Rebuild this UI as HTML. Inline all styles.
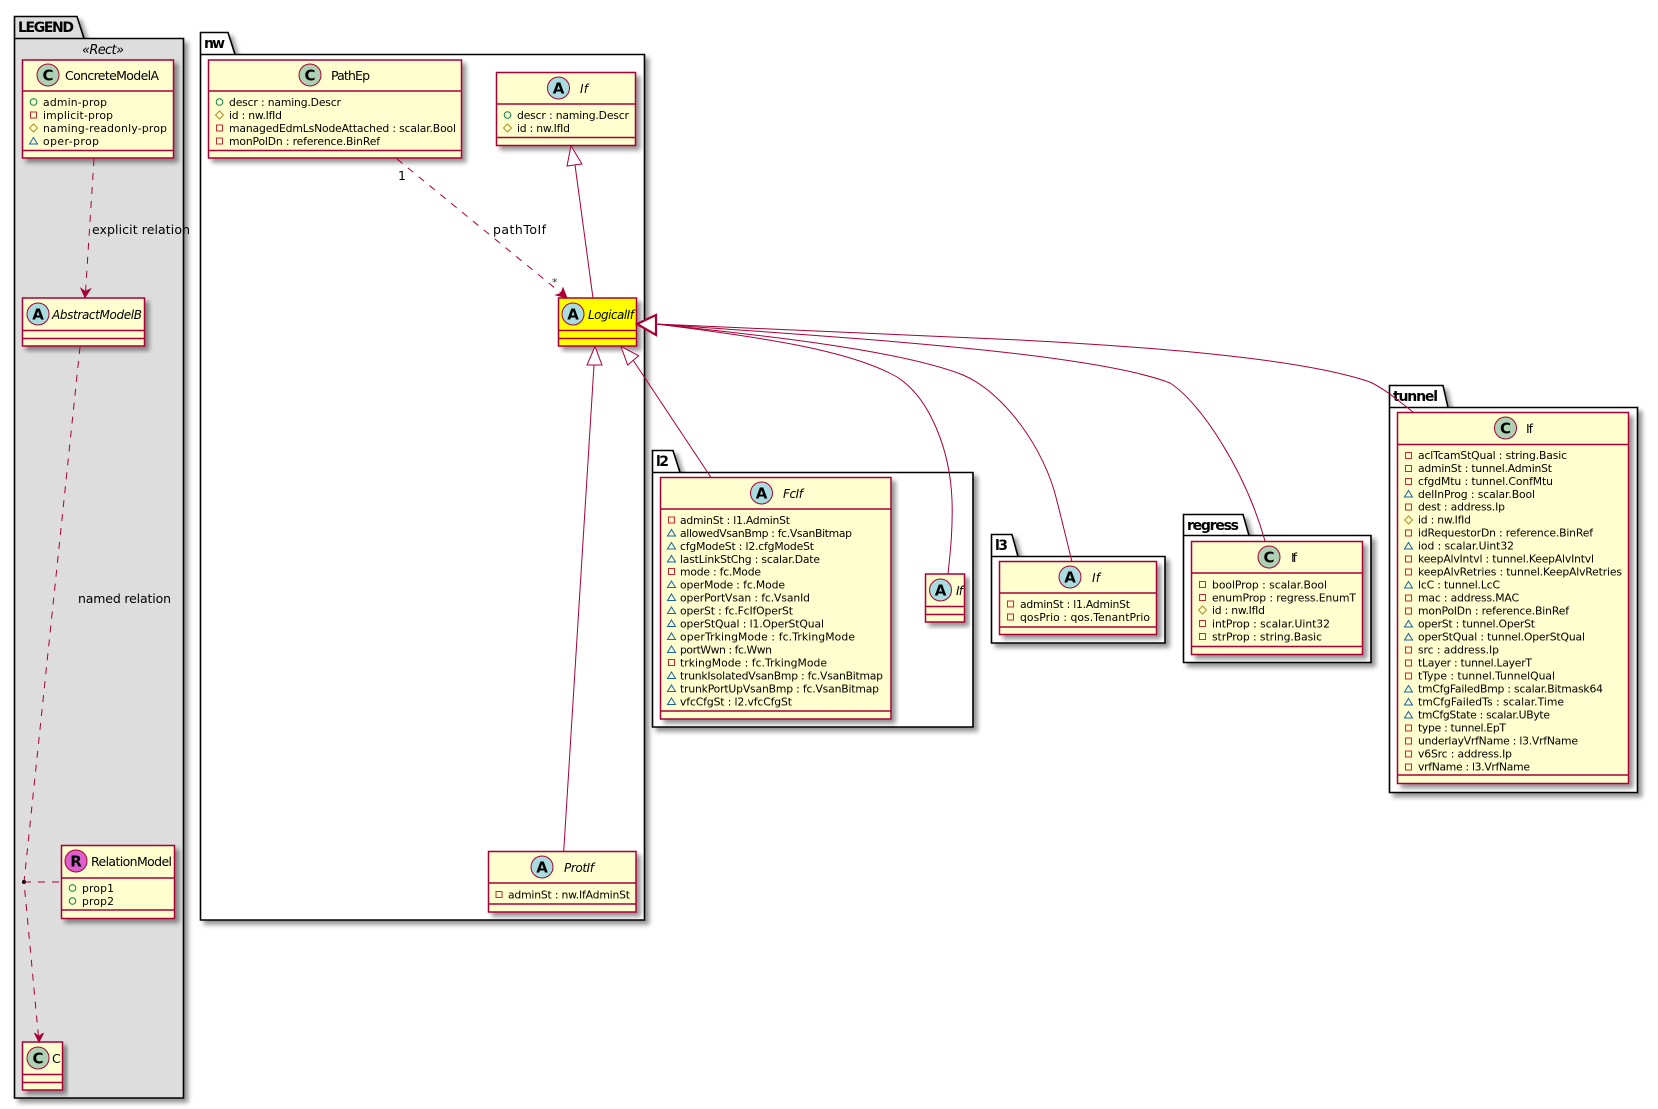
<!DOCTYPE html>
<html><head><meta charset="utf-8"><style>
html,body{margin:0;padding:0;background:#fff}
svg{display:block}
text{font-family:"DejaVu Sans","Liberation Sans",sans-serif;fill:#000}
.a{font-size:10.8px}
.t{font-size:12.5px}
.i{font-size:12px;font-style:italic}
.e{font-size:12.5px}
.p{font-size:14px;font-weight:bold}
.l{font-size:15px;font-weight:bold;text-anchor:middle}
.b{fill:#FEFECE;stroke:#A80036;stroke-width:1.5}
.y{fill:#FFFF00;stroke:#A80036;stroke-width:1.5}
.d{stroke:#A80036;stroke-width:1.5;fill:none}
.k{stroke:#A80036;stroke-width:1;fill:none}
.q{stroke:#A80036;stroke-width:1;fill:none;stroke-dasharray:7,7}
.g{fill:#fff;stroke:#000;stroke-width:1.6}
.h{fill:#DDDDDD;stroke:#000;stroke-width:1.6}
.c{fill:#ADD1B2;stroke:#A80036;stroke-width:1}
.n{fill:#A9DCDF;stroke:#A80036;stroke-width:1}
.r{fill:#DD5FCD;stroke:#A80036;stroke-width:1}
.ah{fill:#A80036;stroke:#A80036;stroke-width:1}
.tri{fill:#fff;stroke:#A80036;stroke-width:1}
</style></head><body>
<svg xmlns="http://www.w3.org/2000/svg" width="1658" height="1109" viewBox="0 0 1658 1109">
<defs>
<filter id="s" x="-10%" y="-10%" width="125%" height="125%">
<feGaussianBlur in="SourceAlpha" stdDeviation="2.4"/><feOffset dx="4" dy="4"/>
<feComponentTransfer><feFuncA type="linear" slope=".42"/></feComponentTransfer>
<feMerge><feMergeNode/><feMergeNode in="SourceGraphic"/></feMerge>
</filter>
<g id="pu"><circle cx="0" cy="0" r="3.3" fill="none" stroke="#038048" stroke-width="1"/></g>
<g id="pr"><rect x="-3" y="-3" width="6" height="6" fill="none" stroke="#C82930" stroke-width="1"/></g>
<g id="pt"><path d="M0,-4L4,0L0,4L-4,0Z" fill="none" stroke="#B38D22" stroke-width="1"/></g>
<g id="pk"><path d="M0,-3.5L4,3L-4,3Z" fill="none" stroke="#1963A0" stroke-width="1"/></g>
</defs>

<!-- packages -->
<path class="h" filter="url(#s)" d="M14.5,38.5V16.5H77L84,38.5H183.5V1098H14.5Z"/>
<line x1="14.5" y1="38.5" x2="84" y2="38.5" stroke="#000" stroke-width="1.6"/>
<text class="p" x="18" y="32" textLength="56">LEGEND</text>
<text class="i" x="82" y="54" textLength="42" style="font-size:13px">«Rect»</text>

<path class="g" filter="url(#s)" d="M200.5,54.5V32.5H228L235,54.5H644.5V920H200.5Z"/>
<line x1="200.5" y1="54.5" x2="235" y2="54.5" stroke="#000" stroke-width="1.6"/>
<text class="p" x="204" y="48" textLength="21">nw</text>

<path class="g" filter="url(#s)" d="M652.5,472.5V450.5H673L680,472.5H973V727H652.5Z"/>
<line x1="652.5" y1="472.5" x2="680" y2="472.5" stroke="#000" stroke-width="1.6"/>
<text class="p" x="656" y="466" textLength="13">l2</text>

<path class="g" filter="url(#s)" d="M991.5,556.5V534.5H1012L1018,556.5H1165V643H991.5Z"/>
<line x1="991.5" y1="556.5" x2="1018" y2="556.5" stroke="#000" stroke-width="1.6"/>
<text class="p" x="995" y="550" textLength="13">l3</text>

<path class="g" filter="url(#s)" d="M1183.5,535.5V514.5H1243L1249,535.5H1371V662.5H1183.5Z"/>
<line x1="1183.5" y1="535.5" x2="1249" y2="535.5" stroke="#000" stroke-width="1.6"/>
<text class="p" x="1187" y="530" textLength="52">regress</text>

<path class="g" filter="url(#s)" d="M1389.5,407.5V385.5H1443L1448,407.5H1637.5V792.5H1389.5Z"/>
<line x1="1389.5" y1="407.5" x2="1448" y2="407.5" stroke="#000" stroke-width="1.6"/>
<text class="p" x="1393" y="401" textLength="45">tunnel</text>

<!-- ConcreteModelA -->
<rect class="b" filter="url(#s)" x="22.5" y="60" width="151" height="98"/>
<path class="d" d="M22.5,91H173.5M22.5,150.5H173.5"/>
<circle class="c" cx="48" cy="75" r="11"/><text class="l" x="48" y="80.5">C</text>
<text class="t" x="65" y="80" textLength="94">ConcreteModelA</text>
<use href="#pu" x="33.5" y="102"/><text class="a" x="43" y="106" textLength="64">admin-prop</text>
<use href="#pr" x="33.5" y="115"/><text class="a" x="43" y="119" textLength="70">implicit-prop</text>
<use href="#pt" x="33.5" y="128"/><text class="a" x="43" y="132" textLength="124">naming-readonly-prop</text>
<use href="#pk" x="33.5" y="141"/><text class="a" x="43" y="145" textLength="56">oper-prop</text>

<!-- AbstractModelB -->
<rect class="b" filter="url(#s)" x="22.5" y="298" width="122" height="48"/>
<path class="d" d="M22.5,330.5H144.5M22.5,338.5H144.5"/>
<circle class="n" cx="38" cy="314" r="11"/><text class="l" x="38" y="319.5">A</text>
<text class="i" x="52" y="319" textLength="90">AbstractModelB</text>

<!-- RelationModel -->
<rect class="b" filter="url(#s)" x="61.5" y="845.5" width="113" height="73"/>
<path class="d" d="M61.5,878H174.5M61.5,910H174.5"/>
<circle class="r" cx="76" cy="861" r="11"/><text class="l" x="76" y="866.5">R</text>
<text class="t" x="91" y="866" textLength="81">RelationModel</text>
<use href="#pu" x="72.5" y="888"/><text class="a" x="82" y="892" textLength="32">prop1</text>
<use href="#pu" x="72.5" y="901"/><text class="a" x="82" y="905" textLength="32">prop2</text>

<!-- C -->
<rect class="b" filter="url(#s)" x="22.5" y="1042" width="40" height="48"/>
<path class="d" d="M22.5,1074.5H62.5M22.5,1082.5H62.5"/>
<circle class="c" cx="38" cy="1058" r="11"/><text class="l" x="38" y="1063.5">C</text>
<text class="t" x="52" y="1063" textLength="7">C</text>

<!-- PathEp -->
<rect class="b" filter="url(#s)" x="208.5" y="60" width="253" height="98"/>
<path class="d" d="M208.5,91H461.5M208.5,150.5H461.5"/>
<circle class="c" cx="310" cy="75" r="11"/><text class="l" x="310" y="80.5">C</text>
<text class="t" x="331" y="80" textLength="39">PathEp</text>
<use href="#pu" x="219.5" y="102"/><text class="a" x="229" y="106" textLength="112">descr : naming.Descr</text>
<use href="#pt" x="219.5" y="115"/><text class="a" x="229" y="119" textLength="53">id : nw.IfId</text>
<use href="#pr" x="219.5" y="128"/><text class="a" x="229" y="132" textLength="227">managedEdmLsNodeAttached : scalar.Bool</text>
<use href="#pr" x="219.5" y="141"/><text class="a" x="229" y="145" textLength="151">monPolDn : reference.BinRef</text>

<!-- nw If -->
<rect class="b" filter="url(#s)" x="496.5" y="72.5" width="139" height="73"/>
<path class="d" d="M496.5,104H635.5M496.5,137.5H635.5"/>
<circle class="n" cx="558.5" cy="88" r="11"/><text class="l" x="558.5" y="93.5">A</text>
<text class="i" x="580" y="93" textLength="8">If</text>
<use href="#pu" x="507.5" y="115"/><text class="a" x="517" y="119" textLength="112">descr : naming.Descr</text>
<use href="#pt" x="507.5" y="128"/><text class="a" x="517" y="132" textLength="53">id : nw.IfId</text>

<!-- LogicalIf -->
<rect class="y" filter="url(#s)" x="558.5" y="298" width="78" height="48"/>
<path class="d" d="M558.5,330.5H636.5M558.5,338.5H636.5"/>
<circle class="n" cx="573" cy="314" r="11"/><text class="l" x="573" y="319.5">A</text>
<text class="i" x="588" y="319" textLength="46">LogicalIf</text>

<!-- ProtIf -->
<rect class="b" filter="url(#s)" x="488.5" y="851.5" width="147.5" height="60.5"/>
<path class="d" d="M488.5,883H636M488.5,904H636"/>
<circle class="n" cx="542" cy="867" r="11"/><text class="l" x="542" y="872.5">A</text>
<text class="i" x="564" y="872" textLength="30">ProtIf</text>
<use href="#pr" x="499" y="894.5"/><text class="a" x="508" y="898.5" textLength="122">adminSt : nw.IfAdminSt</text>

<!-- FcIf -->
<rect class="b" filter="url(#s)" x="660.5" y="477.5" width="230.5" height="241.5"/>
<path class="d" d="M660.5,509H891M660.5,711H891"/>
<circle class="n" cx="761.5" cy="493" r="11"/><text class="l" x="761.5" y="498.5">A</text>
<text class="i" x="783" y="498" textLength="20">FcIf</text>
<use href="#pr" x="671.5" y="520"/><text class="a" x="680" y="524" textLength="110">adminSt : l1.AdminSt</text>
<use href="#pk" x="671.5" y="533"/><text class="a" x="680" y="537" textLength="172">allowedVsanBmp : fc.VsanBitmap</text>
<use href="#pk" x="671.5" y="546"/><text class="a" x="680" y="550" textLength="134">cfgModeSt : l2.cfgModeSt</text>
<use href="#pk" x="671.5" y="559"/><text class="a" x="680" y="563" textLength="140">lastLinkStChg : scalar.Date</text>
<use href="#pr" x="671.5" y="571.5"/><text class="a" x="680" y="575.5" textLength="81">mode : fc.Mode</text>
<use href="#pk" x="671.5" y="584.5"/><text class="a" x="680" y="588.5" textLength="105">operMode : fc.Mode</text>
<use href="#pk" x="671.5" y="597.5"/><text class="a" x="680" y="601.5" textLength="130">operPortVsan : fc.VsanId</text>
<use href="#pk" x="671.5" y="610.5"/><text class="a" x="680" y="614.5" textLength="113">operSt : fc.FcIfOperSt</text>
<use href="#pk" x="671.5" y="623.5"/><text class="a" x="680" y="627.5" textLength="144">operStQual : l1.OperStQual</text>
<use href="#pk" x="671.5" y="636.5"/><text class="a" x="680" y="640.5" textLength="175">operTrkingMode : fc.TrkingMode</text>
<use href="#pk" x="671.5" y="649.5"/><text class="a" x="680" y="653.5" textLength="92">portWwn : fc.Wwn</text>
<use href="#pr" x="671.5" y="662.5"/><text class="a" x="680" y="666.5" textLength="147">trkingMode : fc.TrkingMode</text>
<use href="#pk" x="671.5" y="675.5"/><text class="a" x="680" y="679.5" textLength="203">trunkIsolatedVsanBmp : fc.VsanBitmap</text>
<use href="#pk" x="671.5" y="688.5"/><text class="a" x="680" y="692.5" textLength="199">trunkPortUpVsanBmp : fc.VsanBitmap</text>
<use href="#pk" x="671.5" y="701.5"/><text class="a" x="680" y="705.5" textLength="112">vfcCfgSt : l2.vfcCfgSt</text>

<!-- l2 If -->
<rect class="b" filter="url(#s)" x="925.5" y="574" width="39" height="48"/>
<path class="d" d="M925.5,606.5H964.5M925.5,614.5H964.5"/>
<circle class="n" cx="940.5" cy="590" r="11"/><text class="l" x="940.5" y="595.5">A</text>
<text class="i" x="956" y="595" textLength="7">If</text>

<!-- l3 If -->
<rect class="b" filter="url(#s)" x="999.5" y="561.5" width="157" height="73"/>
<path class="d" d="M999.5,593H1156.5M999.5,627H1156.5"/>
<circle class="n" cx="1070" cy="577" r="11"/><text class="l" x="1070" y="582.5">A</text>
<text class="i" x="1092" y="582" textLength="8">If</text>
<use href="#pr" x="1010.5" y="604"/><text class="a" x="1020" y="608" textLength="110">adminSt : l1.AdminSt</text>
<use href="#pr" x="1010.5" y="617"/><text class="a" x="1020" y="621" textLength="130">qosPrio : qos.TenantPrio</text>

<!-- regress If -->
<rect class="b" filter="url(#s)" x="1191.5" y="541.5" width="171" height="113"/>
<path class="d" d="M1191.5,573H1362.5M1191.5,646.5H1362.5"/>
<circle class="c" cx="1269" cy="557" r="11"/><text class="l" x="1269" y="562.5">C</text>
<text class="t" x="1291" y="562" textLength="6">If</text>
<use href="#pr" x="1202.5" y="584.5"/><text class="a" x="1212" y="588.5" textLength="115">boolProp : scalar.Bool</text>
<use href="#pr" x="1202.5" y="597.5"/><text class="a" x="1212" y="601.5" textLength="144">enumProp : regress.EnumT</text>
<use href="#pt" x="1202.5" y="610"/><text class="a" x="1212" y="614" textLength="53">id : nw.IfId</text>
<use href="#pr" x="1202.5" y="623.5"/><text class="a" x="1212" y="627.5" textLength="118">intProp : scalar.Uint32</text>
<use href="#pr" x="1202.5" y="636.5"/><text class="a" x="1212" y="640.5" textLength="110">strProp : string.Basic</text>

<!-- tunnel If -->
<rect class="b" filter="url(#s)" x="1397.5" y="412.5" width="231" height="371"/>
<path class="d" d="M1397.5,444.5H1628.5M1397.5,775H1628.5"/>
<circle class="c" cx="1505.5" cy="428" r="11"/><text class="l" x="1505.5" y="433.5">C</text>
<text class="t" x="1526" y="433" textLength="7">If</text>
<use href="#pr" x="1408.5" y="455.5"/><text class="a" x="1418" y="459" textLength="149">aclTcamStQual : string.Basic</text>
<use href="#pr" x="1408.5" y="468.5"/><text class="a" x="1418" y="472" textLength="134">adminSt : tunnel.AdminSt</text>
<use href="#pr" x="1408.5" y="481.5"/><text class="a" x="1418" y="485" textLength="135">cfgdMtu : tunnel.ConfMtu</text>
<use href="#pk" x="1408.5" y="494"/><text class="a" x="1418" y="498" textLength="117">delInProg : scalar.Bool</text>
<use href="#pr" x="1408.5" y="507"/><text class="a" x="1418" y="510.5" textLength="87">dest : address.Ip</text>
<use href="#pt" x="1408.5" y="520"/><text class="a" x="1418" y="523.5" textLength="53">id : nw.IfId</text>
<use href="#pr" x="1408.5" y="533"/><text class="a" x="1418" y="536.5" textLength="175">idRequestorDn : reference.BinRef</text>
<use href="#pk" x="1408.5" y="546"/><text class="a" x="1418" y="549.5" textLength="96">iod : scalar.Uint32</text>
<use href="#pr" x="1408.5" y="559"/><text class="a" x="1418" y="562.5" textLength="176">keepAlvIntvl : tunnel.KeepAlvIntvl</text>
<use href="#pr" x="1408.5" y="572"/><text class="a" x="1418" y="575.5" textLength="204">keepAlvRetries : tunnel.KeepAlvRetries</text>
<use href="#pk" x="1408.5" y="585"/><text class="a" x="1418" y="588.5" textLength="82">lcC : tunnel.LcC</text>
<use href="#pr" x="1408.5" y="598"/><text class="a" x="1418" y="601.5" textLength="101">mac : address.MAC</text>
<use href="#pr" x="1408.5" y="611"/><text class="a" x="1418" y="614.5" textLength="151">monPolDn : reference.BinRef</text>
<use href="#pk" x="1408.5" y="624"/><text class="a" x="1418" y="627.5" textLength="117">operSt : tunnel.OperSt</text>
<use href="#pk" x="1408.5" y="637"/><text class="a" x="1418" y="640.5" textLength="167">operStQual : tunnel.OperStQual</text>
<use href="#pr" x="1408.5" y="650"/><text class="a" x="1418" y="653.5" textLength="81">src : address.Ip</text>
<use href="#pr" x="1408.5" y="663"/><text class="a" x="1418" y="666.5" textLength="114">tLayer : tunnel.LayerT</text>
<use href="#pr" x="1408.5" y="676"/><text class="a" x="1418" y="679.5" textLength="137">tType : tunnel.TunnelQual</text>
<use href="#pk" x="1408.5" y="689"/><text class="a" x="1418" y="692.5" textLength="185">tmCfgFailedBmp : scalar.Bitmask64</text>
<use href="#pk" x="1408.5" y="702"/><text class="a" x="1418" y="705.5" textLength="146">tmCfgFailedTs : scalar.Time</text>
<use href="#pk" x="1408.5" y="715"/><text class="a" x="1418" y="718.5" textLength="132">tmCfgState : scalar.UByte</text>
<use href="#pr" x="1408.5" y="728"/><text class="a" x="1418" y="731.5" textLength="88">type : tunnel.EpT</text>
<use href="#pr" x="1408.5" y="741"/><text class="a" x="1418" y="744.5" textLength="160">underlayVrfName : l3.VrfName</text>
<use href="#pr" x="1408.5" y="754"/><text class="a" x="1418" y="757.5" textLength="94">v6Src : address.Ip</text>
<use href="#pr" x="1408.5" y="767"/><text class="a" x="1418" y="770.5" textLength="112">vrfName : l3.VrfName</text>

<!-- legend connectors -->
<path class="q" d="M94,159L85.5,292"/>
<path class="ah" d="M85,297.5L81,288.5L85.2,291.5L90.5,289Z"/>
<text class="e" x="92" y="234" textLength="98">explicit relation</text>
<path class="q" d="M80,347L24,882L38.5,1037"/>
<path class="ah" d="M39,1042L34.5,1033L38.7,1036.5L43.5,1033Z"/>
<text class="e" x="78" y="603" textLength="93">named relation</text>
<circle cx="24" cy="882" r="2" fill="#000"/>
<path class="q" d="M24,882H61"/>

<!-- nw connectors -->
<path class="q" d="M397,159L561,293"/>
<path class="ah" d="M567,298L556,295L561,293.5L563,288Z"/>
<text class="e" x="398" y="180" textLength="6">1</text>
<text class="e" x="552" y="286" textLength="7" style="font-size:11px;fill:#333">*</text>
<text class="e" x="493" y="234" textLength="53">pathToIf</text>

<path class="k" d="M575,165L593,298"/>
<path class="tri" d="M571,146L567,166L582,164Z"/>

<path class="k" d="M594,365L563.7,851.5"/>
<path class="tri" d="M595,346.5L587,365L602,365Z"/>

<path class="k" d="M633,360L710.7,477"/>
<path class="tri" d="M621,346.5L627.7,365L638.7,355.7Z"/>

<!-- curves from LogicalIf -->
<path class="k" d="M656,324C760,337 850,350 897,377C930,398 950,450 952,500C953,530 950,555 948,574"/>
<path class="k" d="M656,324C760,335 900,350 963,375C1005,393 1045,450 1056.7,500C1063,525 1068,545 1071.7,561"/>
<path class="k" d="M656,324C800,335 1085,350 1170,383C1200,402 1245,470 1265,541"/>
<path class="k" d="M656,324L1020,340C1150,347 1300,358 1370,382C1385,389 1400,402 1413,412"/>
<path d="M637,324L656,315V335Z" fill="#fff" stroke="#A80036" stroke-width="2.2"/>
</svg>
</body></html>
